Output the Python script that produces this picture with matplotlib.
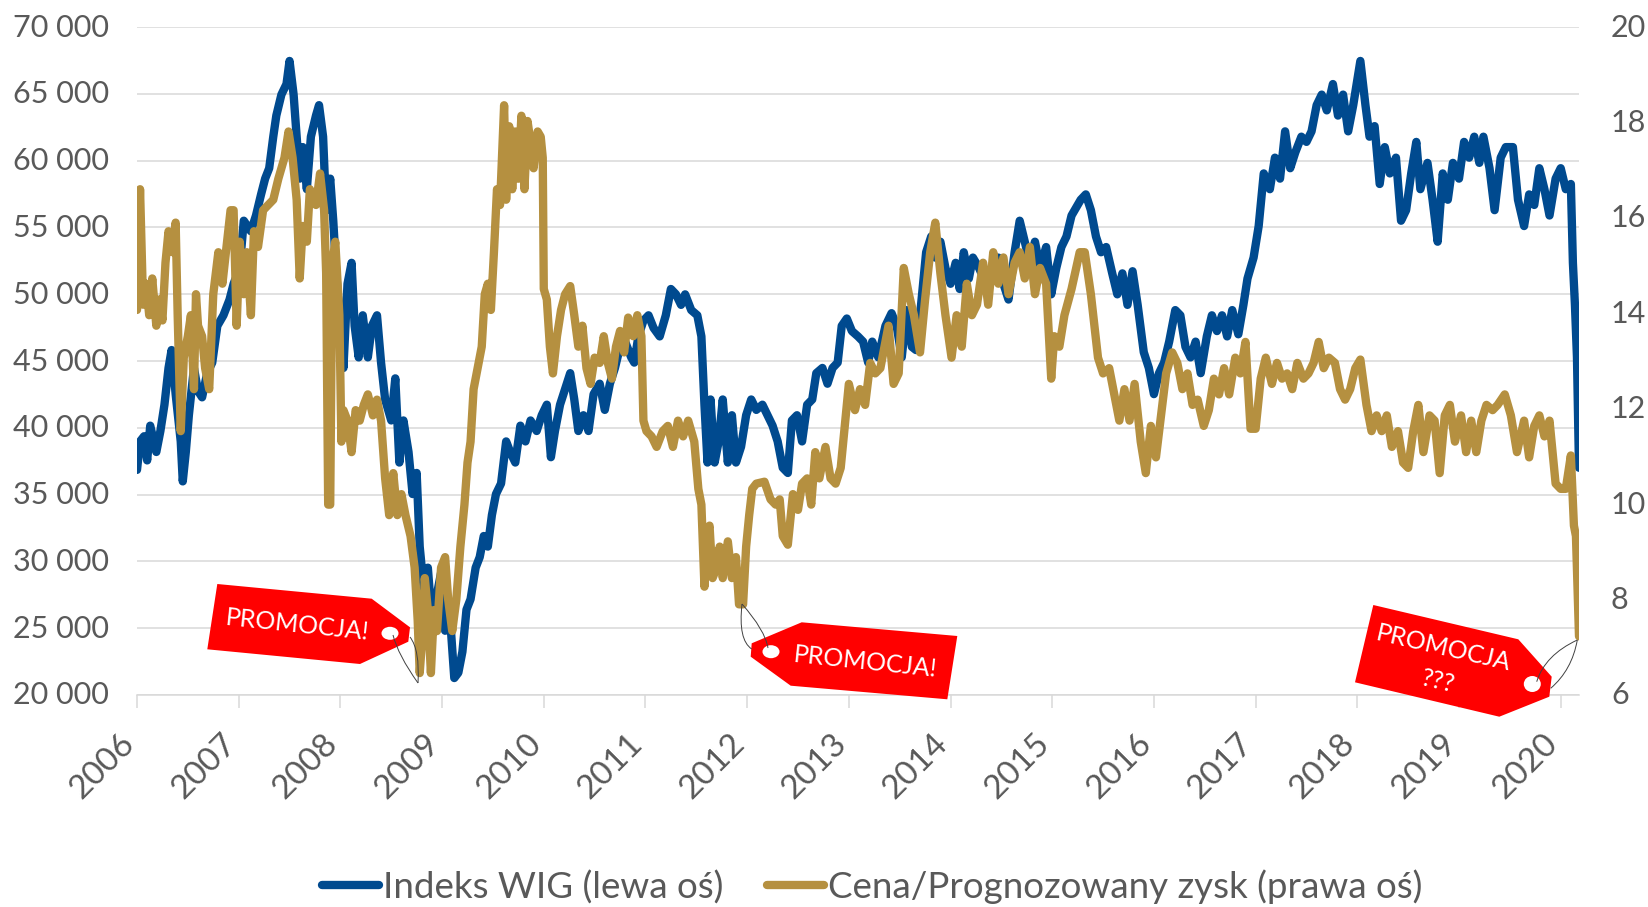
#!/usr/bin/env python3

"""
WIG index vs. forward P/E, with the three "promocja" price tags.
"""

import matplotlib
matplotlib.use("Agg")
import matplotlib.pyplot as plt
from matplotlib import transforms
from matplotlib.patches import Ellipse, PathPatch, Polygon
from matplotlib.path import Path
import numpy as np

W, H = 1648, 907

# years since 2006
wig_t = [
    0, .03, .07, .10, .13, .19, .23, .27, .31, .34,
    .38, .43, .45, .48, .51, .56, .60, .64, .69, .74,
    .79, .85, .91, .95, 1.01, 1.05, 1.12, 1.17, 1.22, 1.26,
    1.30, 1.34, 1.37, 1.42, 1.47, 1.50, 1.54, 1.57, 1.60, 1.63,
    1.67, 1.71, 1.76, 1.79, 1.83, 1.86, 1.90, 1.93, 1.96, 1.99,
    2.03, 2.07, 2.11, 2.14, 2.18, 2.22, 2.27, 2.31, 2.36, 2.40,
    2.44, 2.50, 2.54, 2.58, 2.62, 2.67, 2.71, 2.75, 2.78, 2.82,
    2.86, 2.90, 2.94, 2.99, 3.03, 3.08, 3.12, 3.16, 3.20, 3.24,
    3.28, 3.33, 3.37, 3.41, 3.45, 3.49, 3.53, 3.58, 3.63, 3.67,
    3.72, 3.77, 3.82, 3.87, 3.93, 3.98, 4.03, 4.07, 4.11, 4.16,
    4.21, 4.26, 4.30, 4.34, 4.39, 4.44, 4.49, 4.55, 4.60, 4.65,
    4.70, 4.75, 4.80, 4.86, 4.89, 4.93, 4.98, 5.03, 5.08, 5.14,
    5.20, 5.25, 5.30, 5.35, 5.39, 5.45, 5.51, 5.55, 5.58, 5.61,
    5.64, 5.68, 5.72, 5.76, 5.81, 5.85, 5.89, 5.94, 5.99, 6.04,
    6.09, 6.15, 6.20, 6.25, 6.30, 6.35, 6.40, 6.44, 6.49, 6.54,
    6.59, 6.64, 6.68, 6.74, 6.79, 6.84, 6.89, 6.93, 6.98, 7.03,
    7.09, 7.14, 7.19, 7.23, 7.29, 7.36, 7.42, 7.47, 7.52, 7.57,
    7.62, 7.66, 7.71, 7.76, 7.81, 7.85, 7.90, 7.95, 8.00, 8.05,
    8.09, 8.13, 8.18, 8.22, 8.28, 8.35, 8.41, 8.47, 8.52, 8.57,
    8.63, 8.68, 8.73, 8.78, 8.83, 8.88, 8.94, 8.99, 9.04, 9.09,
    9.14, 9.19, 9.28, 9.33, 9.38, 9.43, 9.48, 9.53, 9.59, 9.64,
    9.69, 9.74, 9.79, 9.84, 9.90, 9.95, 10.00, 10.05, 10.10, 10.15,
    10.21, 10.26, 10.31, 10.36, 10.41, 10.46, 10.52, 10.57, 10.62, 10.67,
    10.72, 10.77, 10.83, 10.88, 10.92, 10.98, 11.03, 11.08, 11.14, 11.19,
    11.24, 11.29, 11.34, 11.39, 11.45, 11.50, 11.55, 11.60, 11.65, 11.70,
    11.76, 11.81, 11.86, 11.91, 11.96, 12.01, 12.03, 12.08, 12.12, 12.17,
    12.22, 12.27, 12.32, 12.38, 12.43, 12.48, 12.53, 12.58, 12.62, 12.69,
    12.74, 12.79, 12.84, 12.89, 12.94, 13.00, 13.05, 13.10, 13.15, 13.20,
    13.24, 13.30, 13.35, 13.41, 13.46, 13.53, 13.58, 13.64, 13.69, 13.74,
    13.79, 13.84, 13.89, 13.95, 14.00, 14.05, 14.10, 14.12, 14.14, 14.16,
    14.18,
]

wig = [
    36850, 38980, 39370, 37560, 40160, 38190, 39760, 41730, 44480, 45820,
    42520, 38980, 35990, 38190, 40940, 44480, 42750, 42280, 44090, 44880,
    47630, 48420, 49600, 50780, 51960, 55500, 54710, 55890, 57470, 58650,
    59430, 61790, 63370, 64940, 65730, 67460, 64940, 61790, 58650, 61010,
    57860, 61790, 63370, 64150, 61790, 56290, 58650, 55500, 51560, 48420,
    44480, 50780, 52350, 47630, 45270, 48420, 45270, 47630, 48420, 44880,
    42120, 40550, 43700, 37400, 40550, 38190, 35040, 36620, 31110, 27960,
    29530, 25600, 27170, 29140, 24810, 25600, 21270, 21670, 23240, 26390,
    27170, 29530, 30320, 31900, 31110, 33470, 35040, 35830, 38980, 38190,
    37400, 40160, 38980, 40550, 39760, 40940, 41730, 37800, 39760, 41730,
    42910, 44090, 42120, 39760, 40940, 39760, 42520, 43300, 41340, 43300,
    44480, 46060, 46450, 45270, 44880, 46840, 48020, 48420, 47470, 46840,
    48420, 50390, 49990, 49200, 49990, 48810, 48420, 46840, 41730, 37400,
    42120, 37400, 38980, 42120, 37400, 40940, 37400, 38580, 40940, 42120,
    41340, 41730, 40940, 40160, 38980, 37010, 36620, 40550, 40940, 38980,
    41730, 42120, 44090, 44480, 43300, 44480, 44880, 47630, 48180, 47240,
    46840, 46450, 44880, 46450, 45270, 47630, 48580, 47630, 45270, 48810,
    46060, 45820, 49200, 53140, 54320, 52740, 53930, 51960, 50780, 52350,
    50390, 53140, 51170, 52740, 51960, 50780, 51560, 52740, 50780, 49600,
    53140, 55500, 53930, 52350, 53930, 51960, 53530, 49990, 51960, 53530,
    54320, 55890, 57070, 57470, 56290, 54320, 53140, 53530, 51560, 49990,
    51560, 49200, 51720, 49200, 45660, 44480, 42520, 44090, 44880, 46450,
    48810, 48420, 46060, 45270, 46450, 44090, 46840, 48420, 47240, 48420,
    46840, 48810, 47000, 49200, 51170, 52740, 55100, 59040, 57860, 60220,
    58650, 62190, 59430, 60610, 61790, 61400, 62190, 64150, 64940, 63760,
    65730, 63370, 64940, 62190, 64150, 66510, 67460, 64150, 61790, 62580,
    58250, 61010, 59040, 60220, 55500, 56290, 59040, 61400, 57860, 59830,
    57070, 53930, 59040, 57070, 59830, 58650, 61400, 60220, 61790, 59830,
    61790, 59430, 56290, 60220, 61010, 61010, 57070, 55100, 57470, 56680,
    59430, 57860, 55890, 58650, 59430, 57860, 58250, 52350, 49200, 45270,
    37010,
]

pe_t = [
    0, .03, .06, .09, .12, .15, .19, .22, .25, .28,
    .31, .35, .38, .40, .43, .46, .50, .53, .56, .58,
    .60, .64, .67, .71, .75, .80, .84, .88, .92, .95,
    .98, 1.01, 1.05, 1.08, 1.12, 1.15, 1.19, 1.24, 1.29, 1.34,
    1.39, 1.45, 1.49, 1.53, 1.57, 1.60, 1.63, 1.67, 1.70, 1.76,
    1.80, 1.84, 1.86, 1.88, 1.90, 1.92, 1.95, 1.99, 2.01, 2.03,
    2.07, 2.11, 2.15, 2.19, 2.23, 2.27, 2.32, 2.36, 2.40, 2.44,
    2.48, 2.52, 2.56, 2.60, 2.64, 2.69, 2.73, 2.76, 2.78, 2.81,
    2.83, 2.86, 2.89, 2.92, 2.95, 2.99, 3.03, 3.06, 3.10, 3.14,
    3.18, 3.22, 3.25, 3.28, 3.31, 3.35, 3.39, 3.42, 3.45, 3.48,
    3.51, 3.54, 3.57, 3.61, 3.63, 3.66, 3.69, 3.72, 3.75, 3.78,
    3.81, 3.84, 3.87, 3.90, 3.94, 3.97, 3.99, 4.00, 4.03, 4.06,
    4.09, 4.13, 4.17, 4.21, 4.26, 4.30, 4.34, 4.38, 4.42, 4.46,
    4.50, 4.55, 4.59, 4.63, 4.67, 4.71, 4.75, 4.79, 4.83, 4.88,
    4.92, 4.96, 4.98, 5.01, 5.06, 5.11, 5.17, 5.22, 5.27, 5.32,
    5.37, 5.42, 5.48, 5.52, 5.55, 5.58, 5.60, 5.63, 5.66, 5.70,
    5.73, 5.76, 5.81, 5.85, 5.89, 5.92, 5.96, 5.99, 6.02, 6.05,
    6.09, 6.17, 6.23, 6.28, 6.32, 6.35, 6.40, 6.45, 6.50, 6.54,
    6.59, 6.63, 6.67, 6.71, 6.77, 6.82, 6.87, 6.92, 6.95, 7.00,
    7.06, 7.11, 7.16, 7.21, 7.26, 7.31, 7.39, 7.44, 7.49, 7.54,
    7.59, 7.64, 7.70, 7.75, 7.80, 7.85, 7.90, 7.95, 8.01, 8.06,
    8.11, 8.16, 8.21, 8.26, 8.32, 8.37, 8.42, 8.47, 8.52, 8.57,
    8.63, 8.68, 8.73, 8.78, 8.83, 8.88, 8.94, 8.99, 9.02, 9.07,
    9.12, 9.19, 9.27, 9.32, 9.38, 9.45, 9.50, 9.56, 9.61, 9.66,
    9.71, 9.76, 9.81, 9.87, 9.92, 9.97, 10.02, 10.07, 10.12, 10.18,
    10.23, 10.28, 10.33, 10.38, 10.43, 10.49, 10.54, 10.59, 10.64, 10.69,
    10.74, 10.80, 10.85, 10.90, 10.95, 11.00, 11.05, 11.10, 11.16, 11.21,
    11.26, 11.31, 11.36, 11.41, 11.47, 11.52, 11.57, 11.62, 11.67, 11.72,
    11.78, 11.83, 11.88, 11.93, 11.98, 12.03, 12.09, 12.14, 12.19, 12.24,
    12.29, 12.34, 12.40, 12.45, 12.50, 12.55, 12.60, 12.65, 12.71, 12.76,
    12.81, 12.86, 12.91, 12.96, 13.02, 13.07, 13.12, 13.17, 13.22, 13.27,
    13.33, 13.38, 13.45, 13.51, 13.57, 13.64, 13.69, 13.74, 13.79, 13.84,
    13.89, 13.95, 14.00, 14.05, 14.10, 14.13, 14.15, 14.18,
]

pe = [
    14.07, 16.60, 14.18, 14.62, 13.96, 14.73, 13.74, 14.29, 13.85, 15.06,
    15.72, 15.28, 15.90, 13.96, 11.53, 13.07, 13.52, 13.96, 12.41, 14.40,
    13.74, 13.52, 12.85, 12.41, 14.40, 15.28, 14.62, 15.39, 16.16, 16.16,
    13.74, 15.50, 14.40, 15.28, 13.96, 15.72, 15.39, 16.16, 16.27, 16.38,
    16.82, 17.26, 17.81, 17.26, 16.38, 14.73, 15.83, 15.50, 16.60, 16.27,
    16.93, 16.16, 14.84, 9.99, 9.99, 15.06, 15.50, 13.96, 11.31, 11.97,
    11.75, 11.09, 11.97, 11.75, 12.08, 12.30, 11.86, 12.19, 11.75, 10.54,
    9.77, 10.65, 9.77, 10.21, 9.77, 9.33, 8.67, 7.57, 6.46, 7.34,
    8.45, 7.78, 6.46, 7.78, 7.34, 8.67, 8.89, 8.00, 7.34, 8.00,
    9.11, 9.99, 10.87, 11.31, 12.41, 12.85, 13.30, 14.40, 14.62, 14.07,
    15.28, 16.60, 16.27, 18.36, 16.38, 17.92, 16.60, 17.81, 16.82, 18.14,
    16.60, 18.03, 17.59, 17.04, 17.81, 17.70, 17.26, 14.51, 14.29, 13.30,
    12.74, 13.52, 14.07, 14.40, 14.57, 13.96, 13.30, 13.74, 12.85, 12.52,
    13.07, 12.96, 13.52, 12.96, 12.63, 13.30, 13.63, 13.18, 13.91, 13.52,
    13.96, 13.52, 11.75, 11.53, 11.42, 11.20, 11.53, 11.64, 11.20, 11.75,
    11.42, 11.75, 11.31, 10.32, 9.99, 8.27, 9.33, 9.55, 8.45, 8.67,
    9.11, 8.45, 9.22, 8.45, 8.89, 7.90, 7.90, 9.11, 9.77, 10.32,
    10.43, 10.47, 10.10, 9.99, 10.10, 9.33, 9.15, 10.21, 9.88, 10.43,
    10.54, 9.99, 11.09, 10.54, 11.20, 10.54, 10.43, 10.76, 11.42, 12.52,
    11.97, 12.41, 12.08, 12.96, 12.74, 12.85, 13.74, 12.52, 12.74, 14.95,
    14.40, 13.96, 13.18, 14.29, 15.28, 15.90, 14.84, 13.96, 13.07, 13.96,
    13.30, 14.62, 13.96, 14.18, 15.06, 14.18, 15.28, 14.62, 15.17, 14.40,
    15.06, 15.28, 14.73, 15.39, 14.40, 14.95, 14.62, 12.63, 13.52, 13.30,
    13.96, 14.51, 15.28, 15.28, 14.40, 13.07, 12.74, 12.85, 12.30, 11.75,
    12.41, 11.75, 12.52, 11.31, 10.65, 11.64, 10.98, 11.86, 12.74, 13.18,
    12.96, 12.41, 12.74, 12.08, 12.19, 11.64, 11.97, 12.63, 12.30, 12.85,
    12.30, 13.07, 12.74, 13.40, 11.58, 11.58, 12.63, 13.07, 12.52, 12.96,
    12.63, 12.74, 12.41, 12.96, 12.63, 12.74, 12.96, 13.40, 12.85, 13.07,
    12.96, 12.41, 12.19, 12.41, 12.85, 13.03, 12.08, 11.53, 11.86, 11.53,
    11.86, 11.20, 11.53, 10.87, 10.76, 11.53, 12.08, 11.09, 11.86, 11.75,
    10.65, 11.86, 12.08, 11.31, 11.86, 11.09, 11.75, 11.09, 11.75, 12.08,
    11.97, 12.08, 12.30, 11.86, 11.09, 11.75, 10.98, 11.64, 11.86, 11.42,
    11.75, 10.43, 10.32, 10.32, 11.02, 9.55, 9.33, 7.23,
]

years = list(range(2006, 2021))
left_ticks = list(range(20000, 70001, 5000))
right_ticks = list(range(6, 21, 2))

BLUE = "#004a8f"
GOLD = "#b59040"
GREY = "#595959"
LIGHT = "#d9d9d9"
RED = "#ff0000"

plt.rcParams["font.family"] = ["Lato", "DejaVu Sans"]


def add_tag(fig, px, outline, hole, strings, labels):
    # the tags sit on top of the chart, placed in image pixels
    fig.add_artist(Polygon(outline, closed=True, fc=RED, ec="none", transform=px, zorder=5))
    fig.add_artist(Ellipse(hole[:2], hole[2], hole[3], fc="white", ec="none", transform=px, zorder=6))
    for p0, c, p1 in strings:
        path = Path([p0, c, p1], [Path.MOVETO, Path.CURVE3, Path.CURVE3])
        fig.add_artist(PathPatch(path, fc="none", ec="#404040", lw=0.7, transform=px, zorder=7))
    for txt, x, y, rot, size in labels:
        fig.text(x / W, 1 - y / H, txt, color="white", fontsize=size, rotation=rot,
                 ha="center", va="center", rotation_mode="anchor", zorder=8)


def main():
    fig = plt.figure(figsize=(W / 100, H / 100), dpi=100)
    ax = fig.add_axes([137 / W, 1 - 695 / H, (1579 - 137) / W, (695 - 27) / H])
    ax2 = ax.twinx()

    line1, = ax.plot(2006 + np.array(wig_t), wig, color=BLUE, lw=6,
                     solid_capstyle="round", solid_joinstyle="round",
                     label="Indeks WIG (lewa oś)")
    line2, = ax2.plot(2006 + np.array(pe_t), pe, color=GOLD, lw=6,
                      solid_capstyle="round", solid_joinstyle="round",
                      label="Cena/Prognozowany zysk (prawa oś)")

    ax.set_xlim(2006, 2020.18)
    ax.set_ylim(20000, 70000)
    ax2.set_ylim(6, 20)

    ax.set_yticks(left_ticks)
    ax.set_yticklabels([f"{v // 1000} 000" for v in left_ticks])
    ax2.set_yticks(right_ticks)
    ax.set_xticks(years)
    ax.set_xticklabels(years, rotation=45, ha="right", rotation_mode="anchor")

    ax.grid(axis="y", color=LIGHT, lw=1.1)
    ax.set_axisbelow(True)
    ax.tick_params(axis="y", length=0, labelsize=22, labelcolor=GREY, pad=20)
    ax2.tick_params(axis="y", length=0, labelsize=22, labelcolor=GREY, pad=23)
    ax.tick_params(axis="x", length=9, width=1.1, color=LIGHT, labelsize=24,
                   labelcolor=GREY, pad=15)
    for side in ["top", "left", "right"]:
        ax.spines[side].set_visible(False)
        ax2.spines[side].set_visible(False)
    ax.spines["bottom"].set_color(LIGHT)
    ax.spines["bottom"].set_linewidth(1.1)
    ax2.spines["bottom"].set_visible(False)

    # nudges have to come after tick_params, it resets the label transforms
    year_shift = transforms.ScaledTranslation(-18 / 100, 0, fig.dpi_scale_trans)
    for lab in ax.get_xticklabels():
        lab.set_transform(lab.get_transform() + year_shift)
    up_shift = transforms.ScaledTranslation(0, 2 / 100, fig.dpi_scale_trans)
    for lab in ax.get_yticklabels():
        lab.set_transform(lab.get_transform() + up_shift)
    for tick in ax2.yaxis.get_major_ticks():
        tick.label2.set_transform(tick.label2.get_transform() + up_shift)

    fig.legend(handles=[line1, line2], loc="center", bbox_to_anchor=(872 / W, 1 - 887 / H),
               ncol=2, frameon=False, fontsize=26.5, labelcolor=GREY,
               handlelength=1.55, handletextpad=0.1, columnspacing=1.2)

    px = transforms.Affine2D().scale(1, -1).translate(0, H)
    add_tag(fig, px,
            [(217.3, 584), (371.7, 598.7), (410, 627.3), (408.3, 641.7), (360, 664), (207.3, 649.3)],
            (390, 633.3, 17, 13),
            [((393, 635), (398, 655), (418, 683)), ((410, 637), (420, 650), (418, 683))],
            [("PROMOCJA!", 297, 625, -6, 18)])
    add_tag(fig, px,
            [(751.7, 643.3), (801.7, 622.3), (957.3, 636), (947.3, 699.3), (790.7, 685.7), (750.7, 656.7)],
            (771, 651.7, 17, 13),
            [((742, 604), (738, 640), (751.7, 649)), ((742, 604), (765, 630), (768, 648))],
            [("PROMOCJA!", 865, 661.7, -6, 18)])
    add_tag(fig, px,
            [(1373.3, 605), (1518.3, 639.3), (1551.7, 676.7), (1549.3, 696.7), (1499.3, 716.7), (1355, 682.3)],
            (1532.3, 684, 17, 16),
            [((1577.3, 640), (1545, 655), (1536.7, 681.7)), ((1577.3, 640), (1572, 670), (1550.7, 688.3))],
            [("PROMOCJA", 1443.3, 648.3, -13, 18), ("???", 1438.3, 681.7, -13, 18)])

    fig.savefig("out.png", dpi=100)


if __name__ == "__main__":
    main()
